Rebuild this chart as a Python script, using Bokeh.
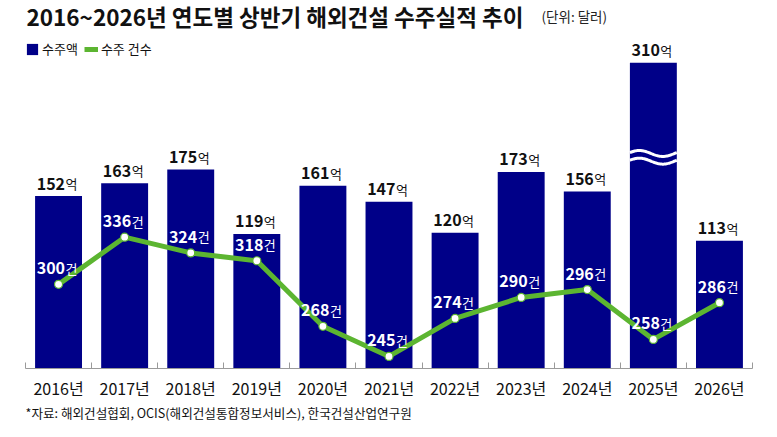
import numpy as np
from bokeh.plotting import figure
from bokeh.models import (Range1d, FixedTicker, ColumnDataSource, Label, Legend,
                          LegendItem, Title)
from bokeh.core.properties import value
from bokeh.embed import file_html
from bokeh.resources import INLINE

# ---- data ----
years = ["2016년", "2017년", "2018년", "2019년", "2020년", "2021년",
         "2022년", "2023년", "2024년", "2025년", "2026년"]
amounts = [152, 163, 175, 119, 161, 147, 120, 173, 156, 310, 113]   # 수주액 (억 달러)
counts = [300, 336, 324, 318, 268, 245, 274, 290, 296, 258, 286]    # 수주 건수 (건)

title_text = "2016~2026년 연도별 상반기 해외건설 수주실적 추이"
unit_text = "(단위: 달러)"
source_text = "*자료: 해외건설협회, OCIS(해외건설통합정보서비스), 한국건설산업연구원"

# display settings
BAR_CAP = 268        # broken-axis height for outlier bar
BREAK_LEVEL = 185.7  # where the wavy break is drawn
NAVY = "#000088"
GREEN = "#5cb531"
KR = "Noto Sans CJK KR"

xs = list(range(len(years)))
shown = [min(a, BAR_CAP) for a in amounts]

src = ColumnDataSource(dict(
    x=xs, shown=shown, cnt=counts,
    amt_txt=[str(a) for a in amounts],
    cnt_txt=[str(c) for c in counts],
))

p = figure(width=777, height=437, output_backend="svg", toolbar_location=None,
           x_range=Range1d(-0.5, len(years) - 0.5), y_range=Range1d(1.74, 322.3),
           y_axis_location=None, title=None,
           min_border_left=25, min_border_right=25, min_border_top=0,
           min_border_bottom=69)
p.extra_y_ranges = {"cnt": Range1d(235.8, 516.6)}
p.outline_line_color = None
p.xgrid.visible = False
p.ygrid.visible = False
p.background_fill_color = "white"
p.border_fill_color = "white"

# x axis: labels at centers, tick marks at category boundaries
ax = p.xaxis[0]
ax.ticker = FixedTicker(ticks=xs, minor_ticks=[i - 0.5 for i in range(len(years) + 1)])
ax.major_label_overrides = {i: y for i, y in enumerate(years)}
ax.axis_line_color = "#9a9a9a"
ax.major_tick_line_color = None
ax.major_tick_in = 0
ax.major_tick_out = 0
ax.minor_tick_line_color = "#9a9a9a"
ax.minor_tick_in = 6
ax.minor_tick_out = 0
ax.major_label_standoff = 7
ax.major_label_text_font = KR
ax.major_label_text_font_size = "16px"
ax.major_label_text_color = "#111111"

# bars
bars = p.vbar(x="x", top="shown", bottom=0, width=0.71, source=src,
              fill_color=NAVY, line_color=None)

# wavy break on outlier bars
t = np.linspace(0, 1, 60)
for i, a in enumerate(amounts):
    if a > BAR_CAP:
        wx = i - 0.355 + 0.71 * t
        wave = 2.6 * np.cos(2 * np.pi * (t - 0.2))
        for off in (3.35, -3.35):
            p.line(wx, BREAK_LEVEL + off + wave, line_color="white", line_width=3)

# line
ln = p.line(x="x", y="cnt", source=src, y_range_name="cnt",
            line_color=GREEN, line_width=5, line_join="round")
p.scatter(x="x", y="cnt", source=src, y_range_name="cnt", size=8,
          fill_color="white", line_color=GREEN, line_width=1.2)

# bar value labels
p.text(x="x", y="shown", text="amt_txt", source=src, text_align="right",
       text_baseline="alphabetic", x_offset=6.5, y_offset=-12.5,
       text_font=value(KR), text_font_style="bold", text_font_size="16px",
       text_color="#111111")
p.text(x="x", y="shown", text=value("억"), source=src, text_align="left",
       text_baseline="alphabetic", x_offset=7, y_offset=-12.5,
       text_font=value(KR), text_font_size="13px", text_color="#111111")

# count labels
p.text(x="x", y="cnt", text="cnt_txt", source=src, y_range_name="cnt",
       text_align="right", text_baseline="alphabetic", x_offset=6.5, y_offset=-16,
       text_font=value(KR), text_font_style="bold", text_font_size="16px",
       text_color="white")
p.text(x="x", y="cnt", text=value("건"), source=src, y_range_name="cnt",
       text_align="left", text_baseline="alphabetic", x_offset=7, y_offset=-16,
       text_font=value(KR), text_font_size="13px", text_color="white")

# legend
legend = Legend(items=[LegendItem(label="수주액", renderers=[bars]),
                       LegendItem(label="수주 건수", renderers=[ln])],
                orientation="horizontal", location=(0, 310),
                glyph_width=14, glyph_height=14, label_standoff=3, spacing=6,
                padding=0, margin=0, border_line_color=None,
                background_fill_alpha=0, label_text_font=KR,
                label_text_font_size="13px", label_text_color="#111111",
                label_height=14)
p.add_layout(legend)

# title + unit
p.add_layout(Label(x=1, y=352.5, x_units="screen", y_units="screen", text=title_text,
                   text_font=KR, text_font_style="bold", text_font_size="22.5px",
                   text_color="#111111", text_baseline="alphabetic"))
p.add_layout(Label(x=516, y=352.5, x_units="screen", y_units="screen", text=unit_text,
                   text_font=KR, text_font_size="13.5px", text_color="#222222",
                   text_baseline="alphabetic"))

# source note
p.add_layout(Title(text=source_text, align="left", text_font=KR, standoff=-3,
                   text_font_style="normal", text_font_size="12.6px",
                   text_color="#111111"), "below")

open("out.html", "w").write(file_html(p, INLINE))
